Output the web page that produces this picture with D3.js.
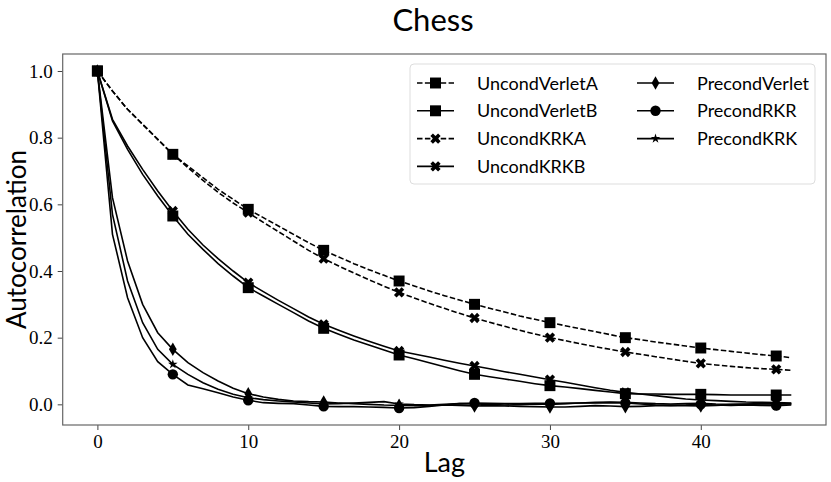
<!DOCTYPE html>
<html>
<head>
<meta charset="utf-8">
<script src="https://d3js.org/d3.v7.min.js"></script>
<style>
  body { margin: 0; background: #fff; }
  .tick text { font-family: "Liberation Serif", serif; font-size: 19px; fill: #000; }
  .lbl { font-family: "Lato", "Open Sans", sans-serif; fill: #000; }
</style>
</head>
<body>
<svg id="chart" width="831" height="482"></svg>
<script>
// lags 0..46
var lags = d3.range(0, 47);

var uncondVerletA = [1.0, 0.94, 0.885, 0.84, 0.795, 0.75, 0.715, 0.68, 0.645, 0.615,
  0.585, 0.56, 0.535, 0.51, 0.485, 0.462, 0.442, 0.422, 0.404, 0.387,
  0.37, 0.355, 0.34, 0.326, 0.313, 0.30, 0.288, 0.277, 0.265, 0.255,
  0.245, 0.236, 0.227, 0.218, 0.209, 0.20, 0.194, 0.187, 0.181, 0.175,
  0.169, 0.164, 0.159, 0.154, 0.149, 0.145, 0.140];

var uncondVerletB = [1.0, 0.85, 0.765, 0.69, 0.625, 0.565, 0.51, 0.465, 0.422, 0.385,
  0.35, 0.325, 0.30, 0.275, 0.25, 0.228, 0.21, 0.193, 0.178, 0.163,
  0.148, 0.137, 0.125, 0.113, 0.101, 0.09, 0.083, 0.076, 0.069, 0.062,
  0.056, 0.052, 0.047, 0.042, 0.037, 0.032, 0.031, 0.031, 0.030, 0.030,
  0.030, 0.029, 0.028, 0.028, 0.028, 0.028, 0.028];

var uncondKRKA = [1.0, 0.94, 0.885, 0.84, 0.795, 0.75, 0.71, 0.672, 0.636, 0.604,
  0.575, 0.546, 0.518, 0.49, 0.462, 0.437, 0.415, 0.394, 0.374, 0.354,
  0.336, 0.319, 0.303, 0.288, 0.273, 0.259, 0.246, 0.234, 0.222, 0.211,
  0.20, 0.191, 0.182, 0.173, 0.165, 0.157, 0.15, 0.143, 0.136, 0.129,
  0.123, 0.118, 0.114, 0.11, 0.107, 0.105, 0.102];

var uncondKRKB = [1.0, 0.855, 0.775, 0.705, 0.64, 0.58, 0.525, 0.478, 0.437, 0.40,
  0.365, 0.338, 0.312, 0.287, 0.262, 0.24, 0.222, 0.205, 0.189, 0.174,
  0.16, 0.151, 0.142, 0.132, 0.123, 0.115, 0.107, 0.098, 0.09, 0.082,
  0.074, 0.066, 0.058, 0.05, 0.042, 0.036, 0.031, 0.026, 0.021, 0.016,
  0.013, 0.011, 0.009, 0.007, 0.006, 0.005, 0.004];

var precondVerlet = [1.0, 0.62, 0.43, 0.30, 0.215, 0.165, 0.125, 0.095, 0.07, 0.048,
  0.032, 0.022, 0.015, 0.01, 0.008, 0.007, 0.004, 0.002, 0.0, -0.002,
  -0.003, -0.004, -0.003, -0.002, -0.003, -0.005, -0.004, -0.005, -0.006, -0.007,
  -0.008, -0.008, -0.006, -0.004, -0.005, -0.007, -0.006, -0.004, -0.003, -0.004,
  -0.005, -0.003, -0.001, 0.0, 0.001, 0.001, 0.001];

var precondRKR = [1.0, 0.51, 0.32, 0.20, 0.128, 0.09, 0.058, 0.047, 0.035, 0.022,
  0.012, 0.005, 0.003, 0.002, -0.002, -0.006, -0.007, -0.007, -0.008, -0.009,
  -0.011, -0.01, -0.006, -0.002, 0.002, 0.004, 0.003, 0.002, 0.002, 0.003,
  0.003, 0.003, 0.004, 0.004, 0.005, 0.004, 0.001, -0.002, -0.003, -0.002,
  0.0, -0.002, -0.003, -0.002, -0.003, -0.004, -0.002];

var precondKRK = [1.0, 0.57, 0.37, 0.245, 0.165, 0.12, 0.09, 0.065, 0.045, 0.03,
  0.02, 0.014, 0.01, 0.007, 0.004, 0.001, 0.002, 0.004, 0.006, 0.008,
  0.001, -0.001, -0.002, 0.0, 0.002, 0.001, 0.0, -0.002, -0.001, 0.001,
  0.0, 0.002, 0.004, 0.006, 0.007, 0.006, 0.004, 0.002, 0.001, 0.002,
  0.003, 0.001, 0.0, 0.001, 0.002, 0.002, 0.002];

var names = ["UncondVerletA", "UncondVerletB", "UncondKRKA", "UncondKRKB",
  "PrecondVerlet", "PrecondRKR", "PrecondKRK"];
var values = [uncondVerletA, uncondVerletB, uncondKRKA, uncondKRKB,
  precondVerlet, precondRKR, precondKRK];
var dashed = [true, false, true, false, false, false, false];
var markers = ["square", "square", "x", "x", "diamond", "circle", "star"];

var xTicks = [0, 10, 20, 30, 40];
var yTicks = [0.0, 0.2, 0.4, 0.6, 0.8, 1.0];

// plot box (window.top is reserved, so own names)
var pLeft = 62.7, pRight = 826, pTop = 54, pBottom = 425;

var x = d3.scaleLinear().domain([-2.3, 48.3]).range([pLeft, pRight]);
var y = d3.scaleLinear().domain([-0.062, 1.051]).range([pBottom, pTop]);

var svg = d3.select("#chart");

// marker shapes
function markerPath(kind) {
  if (kind == "square") return d3.symbol().type(d3.symbolSquare).size(120)();
  if (kind == "circle") return d3.symbol().type(d3.symbolCircle).size(85)();
  if (kind == "diamond") return d3.symbol().type(d3.symbolDiamond).size(52)();
  if (kind == "star") return d3.symbol().type(d3.symbolStar).size(28)();
  return d3.symbol().type(d3.symbolCross).size(66)();
}
function markerRot(kind) {
  return kind == "x" ? " rotate(45)" : "";
}

var line = d3
  .line()
  .x(function(d, i) { return x(lags[i]); })
  .y(function(d) { return y(d); });

var plot = svg.append("g");

values.forEach(function(vals, k) {
  plot
    .append("path")
    .datum(vals)
    .attr("d", line)
    .style("fill", "none")
    .style("stroke", "#000")
    .style("stroke-width", "1.6px")
    .style("stroke-dasharray", dashed[k] ? "5.5,2.4" : null);

  plot
    .selectAll(".m" + k)
    .data(lags.filter(d => d % 5 == 0))
    .enter()
    .append("path")
    .attr("class", "m" + k)
    .attr("d", markerPath(markers[k]))
    .attr("transform", d => "translate(" + x(d) + "," + y(vals[d]) + ")" + markerRot(markers[k]))
    .style("fill", "#000");
});

// axes
var xAxis = svg
  .append("g")
  .attr("transform", "translate(0," + pBottom + ")")
  .call(d3.axisBottom(x).tickValues(xTicks).tickSize(5).tickPadding(5).tickFormat(d3.format("d")));

var yAxis = svg
  .append("g")
  .attr("transform", "translate(" + pLeft + ",0)")
  .call(d3.axisLeft(y).tickValues(yTicks).tickSize(5).tickPadding(5).tickFormat(d3.format(".1f")));

[xAxis, yAxis].forEach(function(a) {
  a.select(".domain").remove();
  a.selectAll(".tick line").style("stroke", "#444").style("stroke-width", "1px");
});

// frame
svg
  .append("rect")
  .attr("x", pLeft)
  .attr("y", pTop)
  .attr("width", pRight - pLeft)
  .attr("height", pBottom - pTop)
  .style("fill", "none")
  .style("stroke", "#666")
  .style("stroke-width", "1.2px");

// titles
svg.append("text")
  .attr("class", "lbl")
  .attr("x", 433)
  .attr("y", 31)
  .attr("text-anchor", "middle")
  .style("font-size", "31px")
  .text("Chess");

svg.append("text")
  .attr("class", "lbl")
  .attr("x", (pLeft + pRight) / 2)
  .attr("y", 472)
  .attr("text-anchor", "middle")
  .style("font-size", "27px")
  .text("Lag");

svg.append("text")
  .attr("class", "lbl")
  .attr("transform", "translate(26," + (pTop + pBottom) / 2 + ") rotate(-90)")
  .attr("text-anchor", "middle")
  .style("font-size", "26px")
  .text("Autocorrelation");

// legend
var leg = svg.append("g");
leg
  .append("rect")
  .attr("x", 410)
  .attr("y", 64)
  .attr("width", 405)
  .attr("height", 120)
  .attr("rx", 4)
  .style("fill", "#fff")
  .style("fill-opacity", 0.8)
  .style("stroke", "#ddd");

names.forEach(function(nm, k) {
  var col = k < 4 ? 0 : 1;
  var row = k < 4 ? k : k - 4;
  var lx = col == 0 ? 417 : 637;
  var ly = 83 + row * 27.8;
  var g = leg.append("g").attr("transform", "translate(" + lx + "," + ly + ")");
  g.append("line")
    .attr("x1", 0).attr("x2", 37).attr("y1", 0).attr("y2", 0)
    .style("stroke", "#000")
    .style("stroke-width", "1.6px")
    .style("stroke-dasharray", dashed[k] ? "5.5,2.4" : null);
  g.append("path")
    .attr("d", markerPath(markers[k]))
    .attr("transform", "translate(18.5,0)" + markerRot(markers[k]))
    .style("fill", "#000");
  g.append("text")
    .attr("class", "lbl")
    .attr("x", 60)
    .attr("y", 6.5)
    .style("font-size", "18px")
    .text(nm);
});
</script>
</body>
</html>
